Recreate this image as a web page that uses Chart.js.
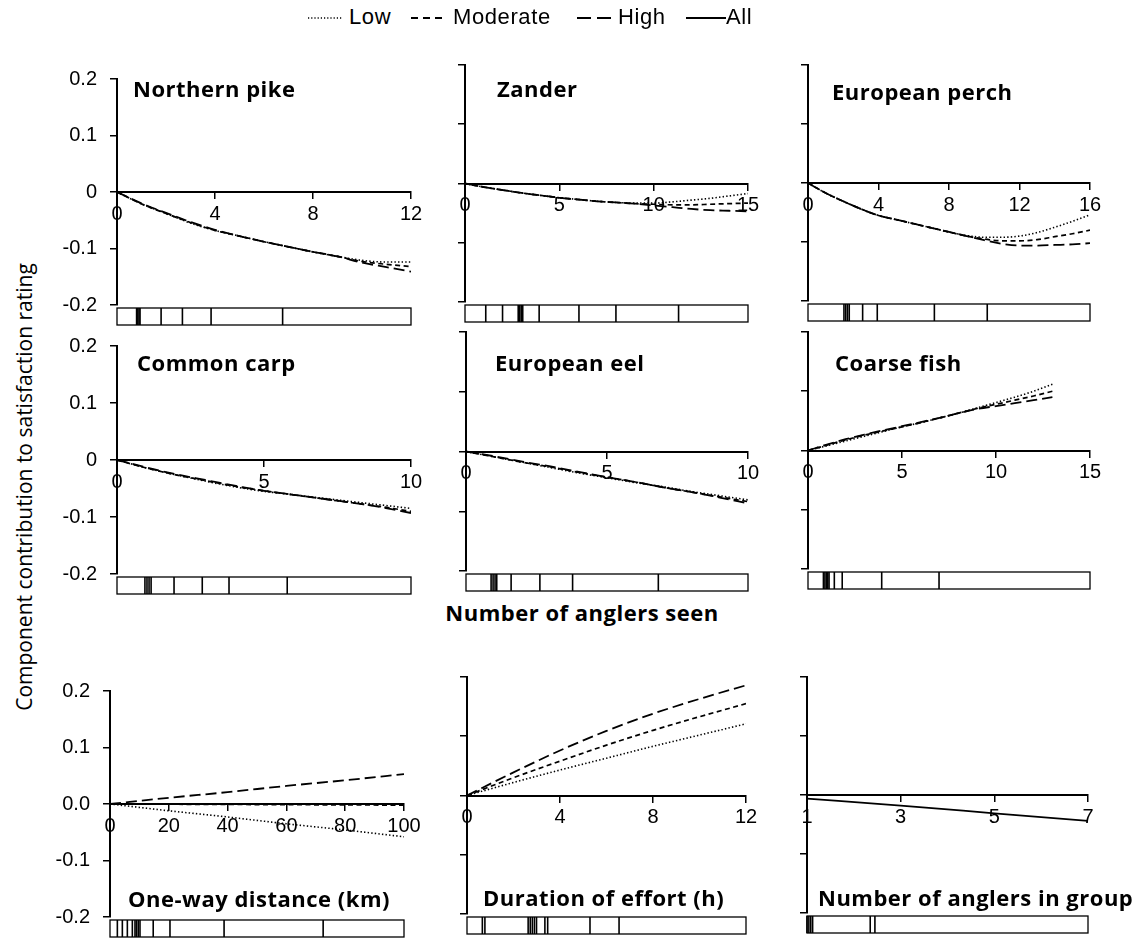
<!DOCTYPE html>
<html>
<head>
<meta charset="utf-8">
<script src="https://cdn.jsdelivr.net/npm/chart.js@4.4.1/dist/chart.umd.min.js"></script>
<style>
  html, body { margin: 0; padding: 0; background: #fff; }
  body { width: 1144px; height: 938px; position: relative; overflow: hidden; font-family: "Liberation Sans", Arial, sans-serif; color: #000; }
  canvas { position: absolute; }
  .ptitle { position: absolute; font-family: "Open Sans", sans-serif; font-weight: 700; font-size: 22px; letter-spacing: 0.5px; line-height: 1; white-space: nowrap; transform: translateY(-50%); }
  .legend-item { position: absolute; top: 0; height: 34px; display: flex; align-items: center; font-size: 22px; letter-spacing: 0.6px; white-space: nowrap; }
  .legend-item svg { display: block; }
  #ytitle { position: absolute; left: 24px; top: 487px; transform: translate(-50%, -50%) rotate(-90deg); font-family: "Open Sans", sans-serif; font-size: 21px; white-space: nowrap; }
  #xtitle { position: absolute; left: 582px; top: 612px; transform: translate(-50%, -50%); font-family: "Open Sans", sans-serif; font-weight: 700; font-size: 22px; letter-spacing: 0.5px; white-space: nowrap; }
</style>
</head>
<body>
<div id="ytitle">Component contribution to satisfaction rating</div>
<div id="xtitle">Number of anglers seen</div>
<script>
// ---- series names ----
const seriesNames = ['Low', 'Moderate', 'High', 'All'];

// ---- Northern pike: number of anglers seen ----
const pikeX        = [0, 1, 2, 3, 4, 5, 6, 7, 8, 9, 10, 11, 12];
const pikeLow      = [0, -0.021, -0.038, -0.055, -0.068, -0.078, -0.088, -0.097, -0.106, -0.114, -0.121, -0.124, -0.124];
const pikeModerate = [0, -0.021, -0.038, -0.054, -0.068, -0.078, -0.088, -0.097, -0.106, -0.114, -0.123, -0.128, -0.132];
const pikeHigh     = [0, -0.020, -0.037, -0.053, -0.067, -0.078, -0.088, -0.097, -0.106, -0.114, -0.125, -0.133, -0.141];
const rugPike      = [0.80, 0.85, 0.90, 0.94, 1.8, 2.67, 3.84, 6.76];

// ---- Zander ----
const zanderX        = [0, 1, 2, 3, 4, 5, 6, 7, 8, 9, 10, 11, 12, 13, 14, 15];
const zanderLow      = [0, -0.006, -0.011, -0.016, -0.020, -0.024, -0.027, -0.030, -0.032, -0.033, -0.033, -0.031, -0.028, -0.025, -0.021, -0.017];
const zanderModerate = [0, -0.006, -0.011, -0.016, -0.020, -0.024, -0.027, -0.030, -0.032, -0.034, -0.035, -0.036, -0.036, -0.035, -0.034, -0.033];
const zanderHigh     = [0, -0.006, -0.011, -0.016, -0.020, -0.024, -0.027, -0.030, -0.032, -0.034, -0.037, -0.040, -0.043, -0.045, -0.046, -0.047];
const rugZander      = [1.10, 1.99, 2.82, 2.90, 2.98, 3.06, 3.93, 6.04, 8.00, 11.32];

// ---- European perch ----
const perchX        = [0, 1, 2, 3, 4, 5, 6, 7, 8, 9, 10, 11, 12, 13, 14, 15, 16];
const perchLow      = [0, -0.017, -0.031, -0.044, -0.055, -0.062, -0.069, -0.076, -0.083, -0.089, -0.092, -0.092, -0.090, -0.084, -0.075, -0.065, -0.054];
const perchModerate = [0, -0.017, -0.031, -0.044, -0.055, -0.062, -0.069, -0.076, -0.083, -0.090, -0.095, -0.098, -0.098, -0.096, -0.091, -0.086, -0.080];
const perchHigh     = [0, -0.017, -0.031, -0.044, -0.055, -0.062, -0.069, -0.076, -0.083, -0.090, -0.097, -0.103, -0.106, -0.106, -0.105, -0.104, -0.102];
const rugPerch      = [2.04, 2.14, 2.24, 2.34, 3.10, 3.93, 7.17, 10.17];

// ---- Common carp ----
const carpX        = [0, 1, 2, 3, 4, 5, 6, 7, 8, 9, 10];
const carpLow      = [0, -0.014, -0.026, -0.037, -0.047, -0.055, -0.061, -0.067, -0.073, -0.079, -0.085];
const carpModerate = [0, -0.014, -0.026, -0.036, -0.046, -0.054, -0.061, -0.068, -0.075, -0.082, -0.090];
const carpHigh     = [0, -0.013, -0.025, -0.035, -0.045, -0.054, -0.061, -0.068, -0.075, -0.083, -0.093];
const rugCarp      = [0.95, 1.02, 1.09, 1.16, 1.94, 2.90, 3.81, 5.79];

// ---- European eel ----
const eelX        = [0, 1, 2, 3, 4, 5, 6, 7, 8, 9, 10];
const eelLow      = [0, -0.009, -0.018, -0.027, -0.036, -0.044, -0.052, -0.059, -0.067, -0.074, -0.081];
const eelModerate = [0, -0.009, -0.018, -0.026, -0.035, -0.043, -0.051, -0.060, -0.068, -0.076, -0.084];
const eelHigh     = [0, -0.008, -0.017, -0.025, -0.034, -0.043, -0.051, -0.060, -0.068, -0.077, -0.087];
const rugEel      = [0.89, 0.96, 1.03, 1.09, 1.60, 2.62, 3.78, 6.82];

// ---- Coarse fish ----
const coarseX        = [0, 1, 2, 3, 4, 5, 6, 7, 8, 9, 10, 11, 12, 13];
const coarseLow      = [0, 0.008, 0.016, 0.024, 0.032, 0.040, 0.047, 0.055, 0.063, 0.072, 0.081, 0.090, 0.100, 0.112];
const coarseModerate = [0, 0.009, 0.018, 0.026, 0.033, 0.040, 0.047, 0.055, 0.063, 0.071, 0.078, 0.085, 0.092, 0.100];
const coarseHigh     = [0, 0.010, 0.019, 0.027, 0.034, 0.041, 0.048, 0.055, 0.063, 0.070, 0.075, 0.080, 0.085, 0.090];
const rugCoarse      = [0.82, 0.90, 0.98, 1.05, 1.12, 1.40, 1.82, 3.92, 6.97];

// ---- One-way distance (km) ----
const distanceX        = [0, 20, 40, 60, 80, 100];
const distanceLow      = [0, -0.012, -0.023, -0.035, -0.046, -0.058];
const distanceModerate = [0, -0.0004, -0.0008, -0.0012, -0.0016, -0.002];
const distanceHigh     = [0, 0.011, 0.021, 0.032, 0.042, 0.053];
const rugDistance      = [2.5, 4.2, 5.9, 7.6, 8.5, 9.0, 9.6, 10.2, 14.7, 20.4, 38.8, 72.5];

// ---- Duration of effort (h) ----
const durationX        = [0, 2, 4, 6, 8, 10, 12];
const durationLow      = [0, 0.022, 0.043, 0.063, 0.083, 0.102, 0.121];
const durationModerate = [0, 0.030, 0.058, 0.085, 0.110, 0.133, 0.155];
const durationHigh     = [0, 0.039, 0.076, 0.109, 0.138, 0.163, 0.186];
const rugDuration      = [0.66, 0.77, 2.63, 2.72, 2.81, 2.90, 2.99, 3.35, 3.47, 5.29, 6.54];

// ---- Number of anglers in group ----
const groupX   = [1, 3, 5, 7];
const groupAll = [-0.006, -0.018, -0.031, -0.044];
const rugGroup = [1.0, 1.04, 1.08, 1.12, 2.35, 2.45];

// ---- shared y scale ----
const yMin = -0.2, yMax = 0.2, yStep = 0.1;

// ---- panel definitions (data references + placement) ----
const panels = [
  { title: 'Northern pike', x: pikeX, series: { Low: pikeLow, Moderate: pikeModerate, High: pikeHigh }, rug: rugPike,
    xMin: 0, xMax: 12, xStep: 4, zeroText: '0', showY: true,  box: [117, 411, 68, 305], titleAt: [133, 88] },
  { title: 'Zander', x: zanderX, series: { Low: zanderLow, Moderate: zanderModerate, High: zanderHigh }, rug: rugZander,
    xMin: 0, xMax: 15, xStep: 5, zeroText: '0', showY: false, box: [465, 748, 65, 302], titleAt: [497, 88] },
  { title: 'European perch', x: perchX, series: { Low: perchLow, Moderate: perchModerate, High: perchHigh }, rug: rugPerch,
    xMin: 0, xMax: 16, xStep: 4, zeroText: '0', showY: false, box: [808, 1090, 65, 301], titleAt: [832, 91] },
  { title: 'Common carp', x: carpX, series: { Low: carpLow, Moderate: carpModerate, High: carpHigh }, rug: rugCarp,
    xMin: 0, xMax: 10, xStep: 5, zeroText: '0', showY: true,  box: [117, 411, 335, 574], titleAt: [137, 362] },
  { title: 'European eel', x: eelX, series: { Low: eelLow, Moderate: eelModerate, High: eelHigh }, rug: rugEel,
    xMin: 0, xMax: 10, xStep: 5, zeroText: '0', showY: false, box: [466, 748, 332, 571], titleAt: [495, 362] },
  { title: 'Coarse fish', x: coarseX, series: { Low: coarseLow, Moderate: coarseModerate, High: coarseHigh }, rug: rugCoarse,
    xMin: 0, xMax: 15, xStep: 5, zeroText: '0', showY: false, box: [808, 1090, 332, 569], titleAt: [835, 362] },
  { title: 'One-way distance (km)', x: distanceX, series: { Low: distanceLow, Moderate: distanceModerate, High: distanceHigh }, rug: rugDistance,
    xMin: 0, xMax: 100, xStep: 20, zeroText: '0.0', showY: true,  box: [110, 404, 680, 917], titleAt: [128, 898] },
  { title: 'Duration of effort (h)', x: durationX, series: { Low: durationLow, Moderate: durationModerate, High: durationHigh }, rug: rugDuration,
    xMin: 0, xMax: 12, xStep: 4, zeroText: '0', showY: false, box: [467, 746, 677, 914], titleAt: [483, 897] },
  { title: 'Number of anglers in group', x: groupX, series: { All: groupAll }, rug: rugGroup,
    xMin: 1, xMax: 7, xStep: 2, zeroText: '0', showY: false, box: [807, 1088, 677, 913], titleAt: [818, 897] }
];

// ---- line styles per series ----
const lineStyle = {
  Low:      { dash: [1.4, 2.2], width: 1.6 },
  Moderate: { dash: [5, 3.5],   width: 1.7 },
  High:     { dash: [11, 5],    width: 1.8 },
  All:      { dash: [],         width: 1.8 }
};

const AXIS_W = 60, PAD_R = 24, PAD_T = 14, PAD_B = 36;
const tickFont = { family: '"Liberation Sans", Arial, sans-serif', size: 20 };

// rug strip drawn under the plot area, positioned with the x scale
const rugPlugin = {
  id: 'rug',
  afterDraw(chart, args, opts) {
    const xs = chart.scales.x;
    const area = chart.chartArea;
    const ctx = chart.ctx;
    const y0 = area.bottom + 3, h = 17;
    const left = xs.getPixelForValue(xs.min), right = xs.getPixelForValue(xs.max);
    ctx.save();
    ctx.strokeStyle = '#000';
    ctx.lineWidth = 1.3;
    ctx.strokeRect(left, y0, right - left, h);
    ctx.lineWidth = 1.6;
    for (const v of opts.values || []) {
      const px = xs.getPixelForValue(v);
      ctx.beginPath();
      ctx.moveTo(px, y0);
      ctx.lineTo(px, y0 + h);
      ctx.stroke();
    }
    ctx.restore();
  }
};

function makePanel(p) {
  const [ax, ex, top, bot] = p.box;
  const left = ax - AXIS_W;
  const width = ex + PAD_R - left;
  const ctop = top - PAD_T;
  const height = bot + PAD_B - ctop;
  const canvas = document.createElement('canvas');
  canvas.width = width; canvas.height = height;
  canvas.style.left = left + 'px'; canvas.style.top = ctop + 'px';
  canvas.style.width = width + 'px'; canvas.style.height = height + 'px';
  document.body.appendChild(canvas);

  const datasets = Object.keys(p.series).map(name => ({
    label: name,
    data: p.x.map((x, i) => ({ x: x, y: p.series[name][i] })),
    borderColor: '#000',
    backgroundColor: '#000',
    borderWidth: lineStyle[name].width,
    borderDash: lineStyle[name].dash,
    pointRadius: 0,
    fill: false,
    cubicInterpolationMode: 'monotone'
  }));

  new Chart(canvas, {
    type: 'line',
    data: { datasets },
    options: {
      responsive: false,
      animation: false,
      devicePixelRatio: 1,
      layout: { padding: { left: 0, right: PAD_R, top: PAD_T, bottom: PAD_B } },
      plugins: { legend: { display: false }, tooltip: { enabled: false }, rug: { values: p.rug } },
      scales: {
        x: {
          type: 'linear', position: { y: 0 }, min: p.xMin, max: p.xMax,
          ticks: { stepSize: p.xStep, color: '#000', font: tickFont, padding: 4, maxRotation: 0, autoSkip: false },
          grid: { display: true, drawOnChartArea: false, drawTicks: true, tickLength: 6, color: '#000', lineWidth: 1.5 },
          border: { display: true, color: '#000', width: 2 }
        },
        y: {
          type: 'linear', position: 'left', min: yMin, max: yMax,
          afterFit(s) { s.width = AXIS_W; },
          ticks: {
            stepSize: yStep, display: p.showY, color: '#000', font: tickFont, padding: 13,
            callback: v => Math.abs(v) < 1e-9 ? p.zeroText : v.toFixed(1)
          },
          grid: { display: true, drawOnChartArea: false, drawTicks: true, tickLength: 7, color: '#000', lineWidth: 1.5 },
          border: { display: true, color: '#000', width: 2 }
        }
      }
    },
    plugins: [rugPlugin]
  });

  const t = document.createElement('div');
  t.className = 'ptitle';
  t.textContent = p.title;
  t.style.left = p.titleAt[0] + 'px';
  t.style.top = p.titleAt[1] + 'px';
  document.body.appendChild(t);
}

panels.forEach(makePanel);

// ---- legend across the top ----
const legendPlace = { Low: [308, 34, 349], Moderate: [411, 36, 453], High: [577, 40, 618], All: [686, 40, 726] };
seriesNames.forEach(name => {
  const [sx, sw, tx] = legendPlace[name];
  const ns = 'http://www.w3.org/2000/svg';
  const svg = document.createElementNS(ns, 'svg');
  svg.setAttribute('width', sw); svg.setAttribute('height', 34);
  svg.style.position = 'absolute'; svg.style.left = sx + 'px'; svg.style.top = '0px';
  const ln = document.createElementNS(ns, 'line');
  ln.setAttribute('x1', 0); ln.setAttribute('x2', sw);
  ln.setAttribute('y1', 18); ln.setAttribute('y2', 18);
  ln.setAttribute('stroke', '#000');
  ln.setAttribute('stroke-width', name === 'Low' ? 1.4 : 2);
  if (lineStyle[name].dash.length) ln.setAttribute('stroke-dasharray', name === 'Low' ? '1.2 2' : name === 'Moderate' ? '7 5' : '14 6');
  svg.appendChild(ln);
  document.body.appendChild(svg);
  const lab = document.createElement('div');
  lab.className = 'legend-item';
  lab.style.left = tx + 'px';
  lab.textContent = name;
  document.body.appendChild(lab);
});
</script>
</body>
</html>
